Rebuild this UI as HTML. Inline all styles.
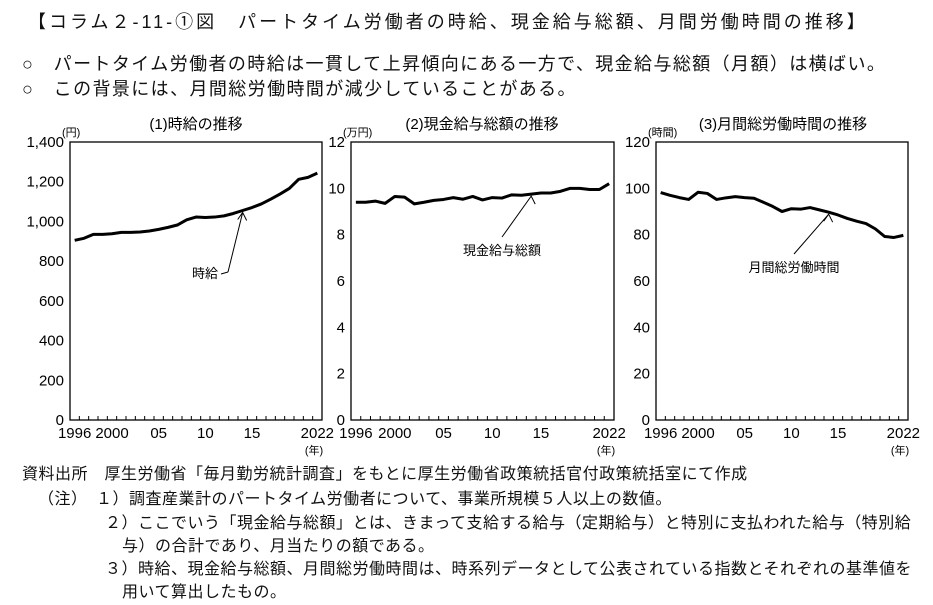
<!DOCTYPE html>
<html><head><meta charset="utf-8"><style>
body{margin:0;width:933px;height:605px;background:#fff;overflow:hidden;font-family:"Liberation Sans","Noto Sans CJK JP",sans-serif;color:#111}
.t{position:absolute;white-space:nowrap;font-family:"Liberation Sans","Noto Sans CJK JP",sans-serif}
.n{font-size:16px;letter-spacing:0.5px}
svg{position:absolute;left:0;top:0}
</style></head><body>
<div class="t" style="left:28px;top:8px;font-size:18px;letter-spacing:3px">【コラム２-11-①図　パートタイム労働者の時給、現金給与総額、月間労働時間の推移】</div>
<div class="t" style="left:22px;top:50px;font-size:18px;letter-spacing:1.4px">○　パートタイム労働者の時給は一貫して上昇傾向にある一方で、現金給与総額（月額）は横ばい。</div>
<div class="t" style="left:22px;top:75px;font-size:18px;letter-spacing:1.4px">○　この背景には、月間総労働時間が減少していることがある。</div>
<div class="t n" style="left:22px;top:460px">資料出所　厚生労働省「毎月勤労統計調査」をもとに厚生労働省政策統括官付政策統括室にて作成</div>
<div class="t n" style="left:38px;top:485px">（注）　１）調査産業計のパートタイム労働者について、事業所規模５人以上の数値。</div>
<div class="t n" style="left:105px;top:509px">２）ここでいう「現金給与総額」とは、きまって支給する給与（定期給与）と特別に支払われた給与（特別給</div>
<div class="t n" style="left:122px;top:532px">与）の合計であり、月当たりの額である。</div>
<div class="t n" style="left:105px;top:555px">３）時給、現金給与総額、月間総労働時間は、時系列データとして公表されている指数とそれぞれの基準値を</div>
<div class="t n" style="left:122px;top:578px">用いて算出したもの。</div>
<svg id="c" width="933" height="605"></svg>
<script>
const years=[1996,1997,1998,1999,2000,2001,2002,2003,2004,2005,2006,2007,2008,2009,2010,2011,2012,2013,2014,2015,2016,2017,2018,2019,2020,2021,2022];
const xLabels=["1996","2000","05","10","15","2022"];
const xLabelYears=[1996,2000,2005,2010,2015,2022];
const wage=[905,915,935,935,938,945,945,947,952,960,970,982,1008,1022,1020,1022,1028,1040,1055,1070,1088,1112,1138,1166,1212,1222,1243];
const pay=[9.4,9.4,9.45,9.35,9.65,9.62,9.33,9.4,9.48,9.52,9.6,9.53,9.65,9.5,9.6,9.58,9.72,9.7,9.75,9.8,9.8,9.87,10.0,10.0,9.95,9.95,10.2];
const hours=[98.2,97,96,95.2,98.3,97.8,95.2,95.9,96.4,96,95.7,94,92.2,90,91.2,91,91.7,90.7,89.7,88.5,87,85.8,84.8,82.5,79.2,78.8,79.7];
const wageTicks=[0,200,400,600,800,1000,1200,1400];
const wageTickLabels=["0","200","400","600","800","1,000","1,200","1,400"];
const payTicks=[0,2,4,6,8,10,12];
const hourTicks=[0,20,40,60,80,100,120];
const svg=document.getElementById('c');const NS='http://www.w3.org/2000/svg';
function mk(t,a,p){const e=document.createElementNS(NS,t);for(const k in a)e.setAttribute(k,a[k]);(p||svg).appendChild(e);return e;}
function chart(o){
  const g=mk('g',{});
  
  
  const L=o.l,R=o.r,T=142,B=420,w=(R-L)/years.length;
  const x=i=>L+(i+0.5)*w, y=v=>B-(v-0)/(o.max)*(B-T);
  const box=mk('rect',{x:L,y:T,width:R-L,height:B-T,fill:'none',stroke:'#000','stroke-width':1.3},g);
  
  o.ticks.forEach((v,i)=>{const t=mk('text',{x:L-6,y:y(v)+5,'text-anchor':'end','font-size':15},g);t.textContent=o.tl[i];
    });
  years.forEach((yr,i)=>{mk('line',{x1:L+i*w,x2:L+i*w,y1:B,y2:B-4,stroke:'#000','stroke-width':1},g);});
  xLabelYears.forEach((yr,k)=>{const i=years.indexOf(yr);const t=mk('text',{x:x(i),y:B+18,'text-anchor':'middle','font-size':15},g);t.textContent=xLabels[k];
    });
  const u=mk('text',{x:R-8,y:B+34,'text-anchor':'middle','font-size':11},g);u.textContent='(年)';
  
  const yu=mk('text',{x:L-8,y:T-6,'font-size':11},g);yu.textContent=o.unit;
  
  const ti=mk('text',{x:o.tx,y:129,'text-anchor':'middle','font-size':15},g);ti.textContent=o.title;
  
  const ln=mk('polyline',{points:o.data.map((v,i)=>x(i)+','+y(v)).join(' '),fill:'none',stroke:'#000','stroke-width':3,'stroke-linejoin':'round'},g);
  
  const ai=years.indexOf(2014);const ax=x(ai),ay=y(o.data[ai])+2;
  const ar=mk('path',{d:`M${o.ap[0]},${o.ap[1]} L${ax},${ay} M${ax-5},${ay+7} L${ax},${ay} L${ax+4},${ay+8}`+(o.extra||''),fill:'none',stroke:'#000','stroke-width':1},g);
  
  const lb=mk('text',{x:o.lp[0],y:o.lp[1],'text-anchor':'middle','font-size':13},g);lb.textContent=o.label;
  
}
chart({name:'chart-hourly-wage',l:70,r:322,max:1400,ticks:wageTicks,tl:wageTickLabels,unit:'(円)',title:'(1)時給の推移',tx:196,data:wage,sname:'wage-line',ap:[228,272],extra:' M228,272 L221,274',label:'時給',lp:[205,278]});
chart({name:'chart-total-pay',l:351,r:614,max:12,ticks:payTicks,tl:payTicks.map(String),unit:'(万円)',title:'(2)現金給与総額の推移',tx:482,data:pay,sname:'pay-line',ap:[502,237],label:'現金給与総額',lp:[502,255]});
chart({name:'chart-work-hours',l:656,r:908,max:120,ticks:hourTicks,tl:hourTicks.map(String),unit:'(時間)',title:'(3)月間総労働時間の推移',tx:783,data:hours,sname:'hours-line',ap:[794,254],label:'月間総労働時間',lp:[794,272]});
</script>
</body></html>
